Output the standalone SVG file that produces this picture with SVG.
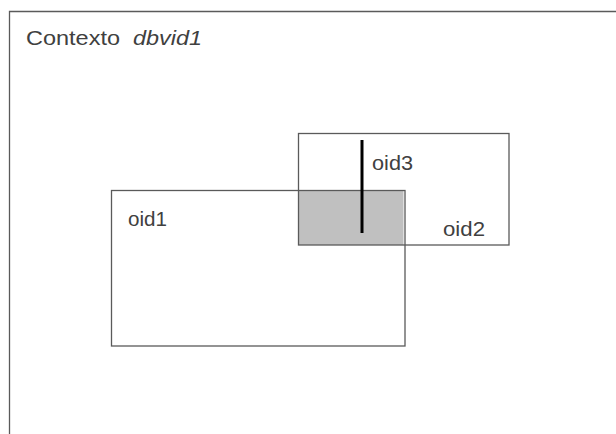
<svg xmlns="http://www.w3.org/2000/svg" width="616" height="434" viewBox="0 0 616 434">
  <style>
    .frame { fill: none; stroke: #5a5a5a; stroke-width: 1.3; }
    .label { font-family: "Liberation Sans", Arial, sans-serif; font-size: 21px; fill: #404040; }
    .ital { font-style: italic; }
  </style>
  <rect width="616" height="434" fill="#ffffff"/>

  <!-- context frame, open to the right and bottom -->
  <g id="context">
    <path class="frame" d="M9.5,440 V11.5 H620" stroke-width="1.6"/>
    <text class="label" x="26" y="45" textLength="94" lengthAdjust="spacingAndGlyphs">Contexto</text>
    <text class="label ital" x="133" y="45" textLength="69" lengthAdjust="spacingAndGlyphs">dbvid1</text>
  </g>

  <!-- overlap of oid1 and oid2 -->
  <rect id="overlap" x="298.5" y="190.5" width="105" height="54.5" fill="#c0c0c0"/>

  <g id="oid1">
    <rect class="frame" x="111.5" y="190.5" width="293.5" height="155.5"/>
    <text class="label" x="128" y="226" textLength="39" lengthAdjust="spacingAndGlyphs">oid1</text>
  </g>

  <g id="oid2">
    <rect class="frame" x="298.5" y="133.5" width="210.5" height="111.5"/>
    <text class="label" x="443" y="236" textLength="42" lengthAdjust="spacingAndGlyphs">oid2</text>
  </g>

  <g id="oid3">
    <line x1="362" y1="140" x2="362" y2="233" stroke="#000000" stroke-width="3"/>
    <text class="label" x="372" y="170" textLength="41" lengthAdjust="spacingAndGlyphs">oid3</text>
  </g>
</svg>
